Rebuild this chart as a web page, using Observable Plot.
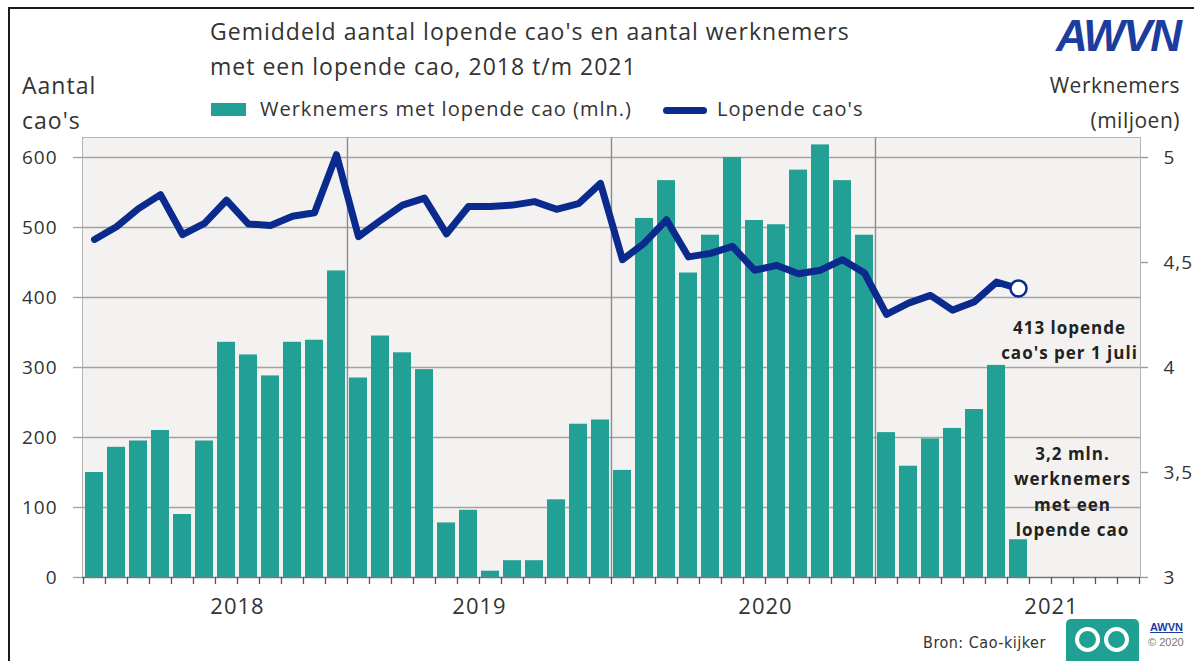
<!DOCTYPE html>
<html>
<head>
<meta charset="utf-8">
<script src="https://cdn.jsdelivr.net/npm/d3@7"></script>
<script src="https://cdn.jsdelivr.net/npm/@observablehq/plot@0.6"></script>
<style>
  html, body { margin: 0; padding: 0; background: #fff; }
  #wrap { position: relative; width: 1194px; height: 661px; overflow: hidden; font-family: "Open Sans", sans-serif; color: #333; }
  #wrap > div.t { position: absolute; white-space: nowrap; }
  #border { position: absolute; left: 8px; top: 7px; width: 1200px; height: 700px; border: 2px solid #1a1a1a; box-sizing: border-box; }
  #chart { position: absolute; left: 0; top: 0; }
  #chart text { letter-spacing: 1px; }
  .logo { position: absolute; left: 1066px; top: 619px; width: 73px; height: 50px; background: #1ea093; border-radius: 5px; }
  .ring { position: absolute; top: 8px; width: 25px; height: 25px; border: 4px solid #fff; border-radius: 50%; box-sizing: border-box; }
</style>
</head>
<body>
<div id="wrap">
  <div id="border"></div>
  <div id="chart"></div>
  <div class="t" style="left:210px; top:14px; font-size:23px; letter-spacing:1px; line-height:35px; color:#333;">Gemiddeld aantal lopende cao's en aantal werknemers<br>met een lopende cao, 2018 t/m 2021</div>
  <div class="t" style="left:22px; top:68px; font-size:23px; letter-spacing:1px; line-height:35px;">Aantal<br>cao's</div>
  <div class="t" style="right:14px; top:68px; font-size:21px; letter-spacing:0.5px; line-height:35px; text-align:right;">Werknemers<br>(miljoen)</div>
  <div class="t" style="left:1056px; top:11px; font-family:'Liberation Sans',sans-serif; font-weight:bold; font-style:italic; font-size:44px; letter-spacing:-2px; color:#1c3c9e;">AWVN</div>
  <div class="t" style="left:211px; top:103px; width:35px; height:13px; background:#23a096;"></div>
  <div class="t" style="left:260px; top:95px; font-size:20px; letter-spacing:1px;">Werknemers met lopende cao (mln.)</div>
  <div class="t" style="left:663px; top:107px; width:44px; height:7px; border-radius:4px; background:#0b2a8e;"></div>
  <div class="t" style="left:717px; top:95px; font-size:20px; letter-spacing:1px;">Lopende cao's</div>
  <div class="t" style="left:923px; top:633px; font-size:16px; letter-spacing:0.5px; font-family:'Liberation Sans Narrow','DejaVu Sans Condensed',sans-serif; color:#333;">Bron: Cao-kijker</div>
  <div class="logo"><div class="ring" style="left:9px;"></div><div class="ring" style="left:38px;"></div></div>
  <div class="t" style="left:1150px; top:621px; font-size:11px; font-weight:bold; color:#1c3c9e; text-decoration:underline; font-family:'Liberation Sans Narrow',sans-serif;">AWVN</div>
  <div class="t" style="left:1148px; top:636px; font-size:11px; color:#777; font-family:'Liberation Sans Narrow',sans-serif;">© 2020</div>
</div>
<script>
// ---- data ----
const years = ["2018", "2019", "2020", "2021"];
const monthNums = ["01","02","03","04","05","06","07","08","09","10","11","12"];
const months = years.flatMap(y => monthNums.map(m => `${y}-${m}`));

// Werknemers met lopende cao (miljoen), Jan 2018 – Jul 2021
const werknemers = [
  3.50, 3.62, 3.65, 3.70, 3.30, 3.65, 4.12, 4.06, 3.96, 4.12, 4.13, 4.46,
  3.95, 4.15, 4.07, 3.99, 3.26, 3.32, 3.03, 3.08, 3.08, 3.37, 3.73, 3.75,
  3.51, 4.71, 4.89, 4.45, 4.63, 5.00, 4.70, 4.68, 4.94, 5.06, 4.89, 4.63,
  3.69, 3.53, 3.66, 3.71, 3.80, 4.01, 3.18
];

// Lopende cao's (aantal), Jan 2018 – Jul 2021
const lopendeCaos = [
  483, 501, 527, 547, 490, 506, 539, 505, 503, 516, 521, 604,
  487, 510, 532, 542, 491, 530, 530, 532, 537, 526, 534, 563,
  454, 478, 511, 458, 463, 473, 439, 446, 434, 439, 454, 435,
  376, 392, 403, 382, 394, 422, 413
];

const leftTicks = [0, 100, 200, 300, 400, 500, 600];
const rightTicks = [3, 3.5, 4, 4.5, 5];
const yearSeparators = ["2019-01", "2020-01", "2021-01"];
const yearLabelAnchors = ["2018-08", "2019-07", "2020-08", "2021-09"];
const annotCao = "413 lopende\ncao's per 1 juli";
const annotWerk = "3,2 mln.\nwerknemers\nmet een\nlopende cao";

// right axis (miljoen) mapped onto left scale
const werkBase = 3, werkFactor = 300;
const toLeft = v => (v - werkBase) * werkFactor;

const barData = werknemers.map((v, i) => ({month: months[i], value: v}));
const lineData = lopendeCaos.map((v, i) => ({month: months[i], value: v}));
const last = lineData[lineData.length - 1];

const W = 1194, H = 661, mL = 82, mR = 54, mT = 137, mB = 84;
const step = (W - mL - mR) / months.length;
const teal = "#23a096", navy = "#0b2a8e", grid = "#a3a3a3", txt = "#333";

const chart = Plot.plot({
  width: W, height: H,
  marginLeft: mL, marginRight: mR, marginTop: mT, marginBottom: mB,
  style: {fontFamily: "'Open Sans', sans-serif", color: txt, background: "transparent"},
  x: {type: "band", domain: months, paddingInner: 0.18, paddingOuter: 0.09, axis: null},
  y: {domain: [0, 628.6], axis: null},
  marks: [
    Plot.frame({fill: "#f4f2f0", stroke: "#b5b5b5"}),
    Plot.ruleY(leftTicks.slice(1), {stroke: grid, strokeWidth: 1.4}),
    Plot.ruleX(yearSeparators, {x: d => d, dx: -step / 2, stroke: "#8c8c8c", strokeWidth: 1.4}),
    Plot.barY(barData, {x: "month", y1: 0, y2: d => toLeft(d.value), fill: teal}),
    Plot.lineY(lineData, {x: "month", y: "value", stroke: navy, strokeWidth: 7, strokeLinejoin: "round", strokeLinecap: "round"}),
    Plot.dot([last], {x: "month", y: "value", r: 8, fill: "#fff", stroke: navy, strokeWidth: 2.5}),
    Plot.ruleY([0], {stroke: "#777", strokeWidth: 1.5}),
    Plot.ruleX(months, {x: d => d, y1: 0, y2: 0, dx: -step / 2, insetBottom: -7, stroke: "#555", strokeWidth: 1.3}),
    Plot.ruleX([months[months.length - 1]], {x: d => d, y1: 0, y2: 0, dx: step / 2, insetBottom: -7, stroke: "#555", strokeWidth: 1.3}),
    Plot.axisY({anchor: "left", label: null, ticks: leftTicks, tickSize: 9, tickPadding: 16, fontSize: 19, stroke: grid, strokeWidth: 1.4, tickFormat: d => String(d), fill: txt}),
    Plot.axisY({anchor: "right", label: null, ticks: rightTicks.map(toLeft), tickSize: 7, tickPadding: 16, fontSize: 19, stroke: "#999", strokeWidth: 1.4, tickFormat: d => String(d / werkFactor + werkBase).replace(".", ","), fill: txt}),
    Plot.text(yearLabelAnchors, {x: d => d, y: 0, text: d => d.slice(0, 4), dx: -step / 2, dy: 29, fontSize: 22, fill: txt}),
    Plot.text([annotCao], {x: () => "2021-10", y: () => 342, text: d => d, dx: -15, fontSize: 17, fontWeight: "bold", fill: "#222", lineHeight: 1.5}),
    Plot.text([annotWerk], {x: () => "2021-10", y: () => 125, text: d => d, dx: -12, fontSize: 17, fontWeight: "bold", fill: "#222", lineHeight: 1.5})
  ]
});
document.getElementById("chart").appendChild(chart);
</script>
</body>
</html>
